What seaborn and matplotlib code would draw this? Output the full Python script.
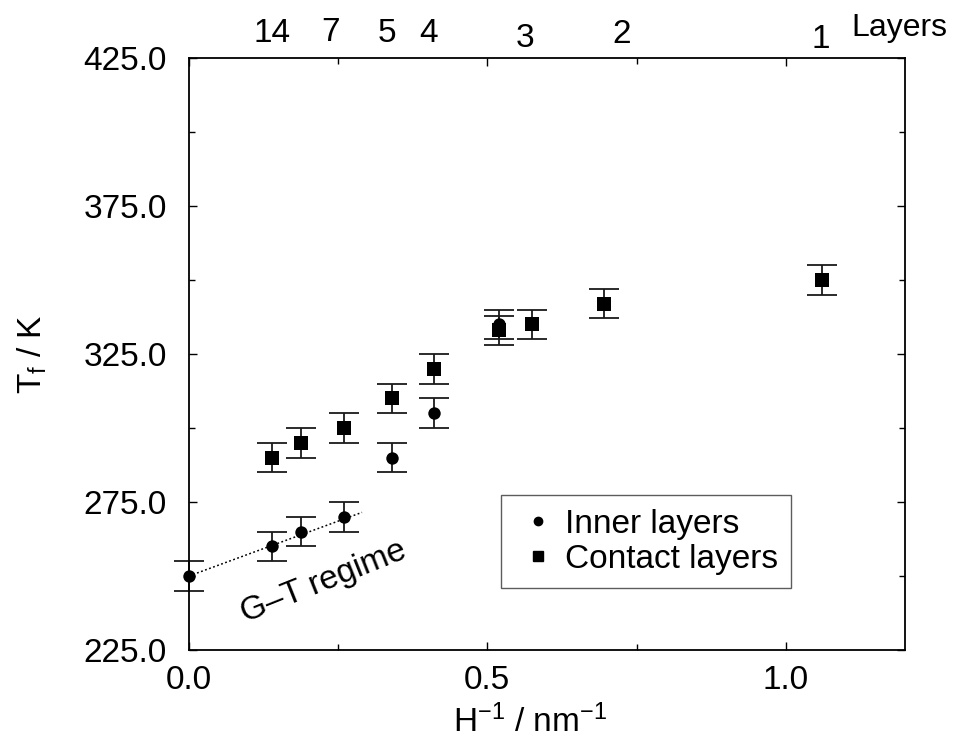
import matplotlib
matplotlib.use("Agg")
import matplotlib.pyplot as plt
from matplotlib.lines import Line2D
import seaborn as sns
import pandas as pd

# ---------------- data ----------------
inner_x = [0.0, 0.139, 0.187, 0.259, 0.341, 0.411, 0.519]
inner_y = [250.0, 260.0, 265.0, 270.0, 290.0, 305.0, 335.0]
inner_err = [5, 5, 5, 5, 5, 5, 5]

contact_x = [0.139, 0.187, 0.259, 0.341, 0.411, 0.519, 0.575, 0.695, 1.061]
contact_y = [290.0, 295.0, 300.0, 310.0, 320.0, 333.0, 335.0, 342.0, 350.0]
contact_err = [5, 5, 5, 5, 5, 5, 5, 5, 5]

gt_x = [0.0, 0.29]
gt_y = [250.0, 271.5]

layer_labels = ["14", "7", "5", "4", "3", "2", "1"]
layer_pos = [0.139, 0.237, 0.332, 0.402, 0.563, 0.725, 1.059]
layer_ht = [1.042, 1.043, 1.041, 1.042, 1.033, 1.040, 1.031]

yticks_major = [225, 275, 325, 375, 425]
yticks_minor = [250, 300, 350, 400]
xticks_major = [0.0, 0.5, 1.0]
xticks_minor = [0.25, 0.75]

# ---------------- style ----------------
sns.set_theme(style="ticks")
plt.rcParams["font.family"] = ["Liberation Sans", "DejaVu Sans"]
plt.rcParams["mathtext.fontset"] = "custom"
plt.rcParams["mathtext.rm"] = "Liberation Sans"
plt.rcParams["mathtext.it"] = "Liberation Sans:italic"
plt.rcParams["mathtext.bf"] = "Liberation Sans:bold"
for k in ("text.color", "axes.labelcolor", "xtick.color", "ytick.color",
          "axes.edgecolor"):
    plt.rcParams[k] = "black"

fig = plt.figure(figsize=(9.56, 7.4), dpi=100)
ax = fig.add_axes([189 / 956, 90 / 740, 716 / 956, 592 / 740])

inner = pd.DataFrame({"x": inner_x, "y": inner_y, "e": inner_err})
contact = pd.DataFrame({"x": contact_x, "y": contact_y, "e": contact_err})

# dotted G-T line
sns.lineplot(x=gt_x, y=gt_y, ax=ax, color="black", lw=1.1,
             linestyle=(0, (1.2, 1.6)), zorder=2)

# error bars
for df in (inner, contact):
    _, caps, bars = ax.errorbar(df["x"], df["y"], yerr=df["e"], fmt="none",
                                ecolor="#1a1a1a", elinewidth=1.3, capsize=10.5,
                                capthick=1.3, zorder=2)
    for c in caps:
        c.set_clip_on(False)
    for b in bars:
        b.set_clip_on(False)

sns.scatterplot(data=contact, x="x", y="y", marker="s", s=95, color="black",
                edgecolor="black", linewidth=0, ax=ax, zorder=3, legend=False,
                clip_on=False)
sns.scatterplot(data=inner, x="x", y="y", marker="o", s=80, color="black",
                edgecolor="black", linewidth=0, ax=ax, zorder=4, legend=False,
                clip_on=False)

# axes
ax.set_xlim(0.0, 1.2)
ax.set_ylim(225, 425)
ax.set_xticks(xticks_major)
ax.set_xticks(xticks_minor, minor=True)
ax.set_xticklabels([f"{v:.1f}" for v in xticks_major])
ax.set_yticks(yticks_major)
ax.set_yticks(yticks_minor, minor=True)
ax.set_yticklabels([f"{v:.1f}" for v in yticks_major])

for sp in ax.spines.values():
    sp.set_visible(True)
    sp.set_linewidth(1.3)
    sp.set_color("black")

ax.tick_params(which="both", direction="in", top=True, right=True,
               width=1.0, color="black")
ax.tick_params(which="major", length=6)
ax.tick_params(which="minor", length=4)
ax.tick_params(axis="y", which="major", labelsize=24, pad=16)
ax.tick_params(axis="x", which="major", labelsize=24, pad=11)

ax.set_xlabel(r"H$^{\mathrm{-1}}$ / nm$^{\mathrm{-1}}$", fontsize=24)
ax.set_ylabel(r"T$_{\mathrm{f}}$ / K", fontsize=24)
ax.xaxis.set_label_coords(0.476, -0.093)
ax.yaxis.set_label_coords(-0.196, 0.5)

# top layer labels
tr = ax.get_xaxis_transform()
for lab, xp, yh in zip(layer_labels, layer_pos, layer_ht):
    ax.text(xp, yh, lab, transform=tr, ha="center", va="center", fontsize=24,
            clip_on=False)
ax.text(1.11, 1.051, "Layers", transform=tr, ha="left", va="center",
        fontsize=23, clip_on=False)

# G-T regime annotation
ax.text(0.225, 248.0, "G\u2013T regime", rotation=21.8, rotation_mode="anchor",
        ha="center", va="center", fontsize=24)

# legend
handles = [
    Line2D([], [], marker="o", color="black", linestyle="none", markersize=6),
    Line2D([], [], marker="s", color="black", linestyle="none", markersize=6.5),
]
leg = ax.legend(handles, ["Inner layers", "Contact layers"],
                loc="lower left", bbox_to_anchor=(0.436, 0.105),
                borderaxespad=0, fontsize=24, frameon=True, fancybox=False,
                borderpad=0.4, handlelength=1.4, handletextpad=0.1,
                labelspacing=0.12)
leg.get_frame().set_edgecolor("#333333")
leg.get_frame().set_linewidth(1.0)

fig.savefig("out.png", dpi=100)
